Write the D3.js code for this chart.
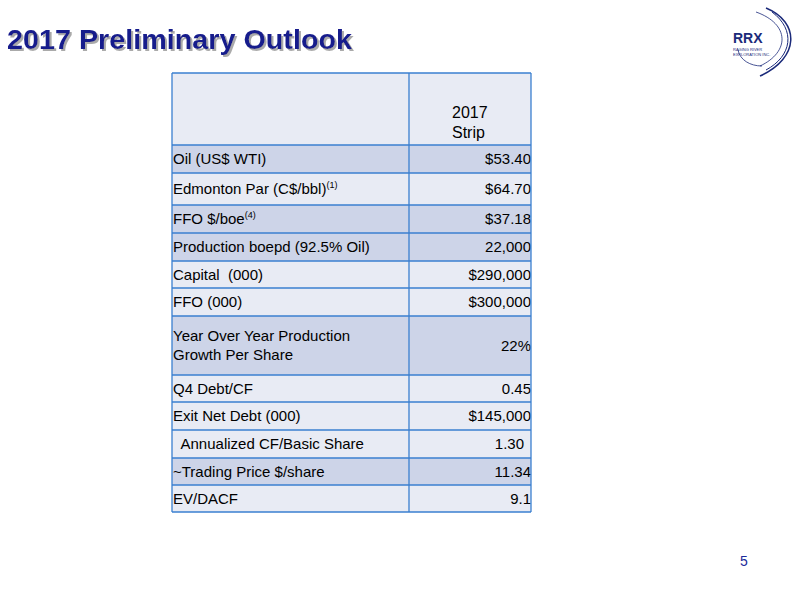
<!DOCTYPE html>
<html><head><meta charset="utf-8">
<script src="https://cdn.jsdelivr.net/npm/d3@7"></script>
<style>body{margin:0;background:#fff}svg{display:block}</style>
</head><body>
<script>
const labels = ["Oil (US$ WTI)","Edmonton Par (C$/bbl)|(1)","FFO $/boe|(4)","Production boepd (92.5% Oil)","Capital  (000)","FFO (000)","Year Over Year Production\nGrowth Per Share","Q4 Debt/CF","Exit Net Debt (000)","  Annualized CF/Basic Share","~Trading Price $/share","EV/DACF"];
const values = ["$53.40","$64.70","$37.18","22,000","$290,000","$300,000","22%","0.45","$145,000","1.30","11.34","9.1"];
const shaded = [true,false,true,true,false,false,true,false,false,false,true,false];
const rowBounds = [145,173,205,233,261,288,316,375,402,430,458,485,512];
const headerLines = ["2017","Strip"];

const F = "Liberation Sans, Arial, sans-serif";
const svg = d3.select("body").append("svg").attr("width",800).attr("height",600);
const defs = svg.append("defs");
const flt = defs.append("filter").attr("id","sh").attr("x","-5%").attr("y","-20%").attr("width","110%").attr("height","150%");
flt.append("feDropShadow").attr("dx",2).attr("dy",2).attr("stdDeviation",0.6).attr("flood-color","#aaa");
svg.append("text").attr("x",7).attr("y",49).attr("font-family",F).attr("font-weight","bold")
  .attr("font-size",28).attr("fill","#141a8c").attr("textLength",345).attr("lengthAdjust","spacingAndGlyphs")
  .attr("filter","url(#sh)").text("2017 Preliminary Outlook");

// logo
const lg = svg.append("g").attr("fill","none").attr("stroke","#1b2a7a");
lg.append("path").attr("d","M766,8 C800,22 800,58 760,76").attr("stroke-width",1.5);
lg.append("path").attr("d","M772,12 C796,30 792,56 766,70").attr("stroke-width",1);
lg.append("path").attr("d","M756,12 C790,24 790,52 760,66").attr("stroke-width",0.8);
lg.append("path").attr("d","M738,50 C740,60 750,66 762,66").attr("stroke-width",0.8);
svg.append("text").attr("x",733).attr("y",43).attr("font-family",F).attr("font-weight","bold").attr("font-size",14).attr("fill","#1b2a7a").text("RRX");
svg.append("text").attr("x",733).attr("y",51).attr("font-family",F).attr("font-size",4).attr("fill","#1b2a7a").text("RAGING RIVER");
svg.append("text").attr("x",733).attr("y",56).attr("font-family",F).attr("font-size",4).attr("fill","#1b2a7a").text("EXPLORATION INC.");

const xL = 172, xM = 409, xR = 531;
const g = svg.append("g");
g.append("rect").attr("x",xL).attr("y",73).attr("width",xR-xL).attr("height",rowBounds[0]-73).attr("fill","#e8ebf4");
headerLines.forEach((t,i)=>g.append("text").attr("x",452).attr("y",118+i*20).attr("font-family",F).attr("font-size",16).attr("fill","#000").text(t));
labels.forEach((lab,i)=>{
  const y0=rowBounds[i], y1=rowBounds[i+1], mid=(y0+y1)/2;
  g.append("rect").attr("x",xL).attr("y",y0).attr("width",xR-xL).attr("height",y1-y0).attr("fill",shaded[i]?"#cdd4e8":"#e8ebf4");
  const [main,sup] = lab.split("|");
  const lines = main.split("\n");
  lines.forEach((ln,k)=>{
    const t = g.append("text").attr("x",173).attr("y",mid+5+(k-(lines.length-1)/2)*19)
      .attr("font-family",F).attr("font-size",15).attr("fill","#000").style("white-space","pre").text(ln);
    if(sup && k===lines.length-1) t.append("tspan").attr("dy",-6).attr("font-size",9).text(sup);
  });
  g.append("text").attr("x", values[i]==="1.30"?524:531).attr("y",mid+5).attr("text-anchor","end")
    .attr("font-family",F).attr("font-size",15).attr("fill","#000").text(values[i]);
});
const ls = "#3a7fd0";
[73].concat(rowBounds).forEach(yy=>g.append("line").attr("x1",xL).attr("x2",xR).attr("y1",yy).attr("y2",yy).attr("stroke",ls).attr("stroke-width",1.3));
[xL,xM,xR].forEach(xx=>g.append("line").attr("x1",xx).attr("x2",xx).attr("y1",73).attr("y2",512).attr("stroke",ls).attr("stroke-width",1.3));
svg.append("text").attr("x",740).attr("y",566).attr("font-family",F).attr("font-size",14).attr("fill","#1b2a9a").text("5");
</script></body></html>
